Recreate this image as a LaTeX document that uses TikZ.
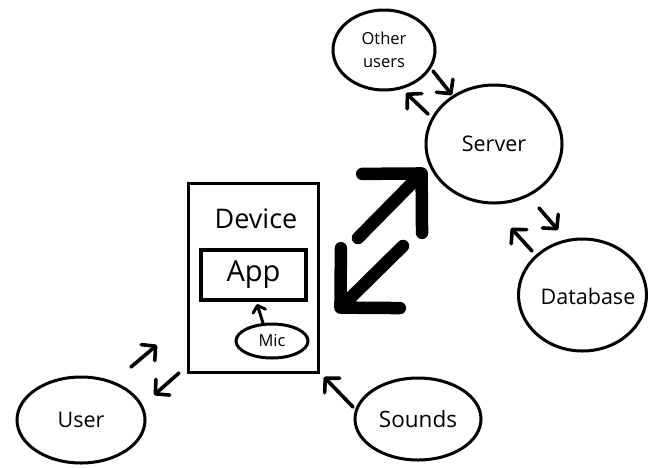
\documentclass[tikz,border=0pt]{standalone}
\usepackage{fontspec}
\setmainfont{Open Sans}
\usetikzlibrary{shapes.geometric,arrows.meta}
\begin{document}
\begin{tikzpicture}[x=1pt,y=-1pt,
  oval/.style={ellipse,draw,line width=3pt,inner sep=0pt},
  smallarrow/.style={line width=3.6pt,line cap=round,-{Straight Barb[length=10pt,width=21pt,round]}},
  bigarrow/.style={line width=12.5pt,line cap=round,-{Straight Barb[length=42pt,width=84pt,round]}},
  lbl/.style={font=\fontsize{21.5}{24}\selectfont}]
\useasboundingbox (0,0) rectangle (648,467);
\node[oval,minimum width=102pt,minimum height=80pt,align=center,font=\fontsize{16.5}{23}\selectfont] (other) at (384,50) {Other\\users};
\node[oval,minimum width=136pt,minimum height=118pt,lbl] (server) at (494,144) {Server};
\node[oval,minimum width=128pt,minimum height=112pt] (db) at (582.5,295) {};
\node[lbl] (dbtext) at (588,296) {Database};
\node[oval,minimum width=128pt,minimum height=86pt,lbl] (user) at (81,420) {User};
\node[oval,minimum width=126pt,minimum height=82pt,font=\fontsize{22.5}{24}\selectfont] (sounds) at (418,419) {Sounds};
\draw[line width=3pt] (188,183) rectangle (318,372);
\node[font=\fontsize{27}{30}\selectfont] (device) at (256,219) {Device};
\node[draw,line width=4pt,minimum width=105pt,minimum height=50pt,inner sep=0pt,font=\fontsize{29}{30}\selectfont] (app) at (253.5,275) {App};
\node[oval,minimum width=72pt,minimum height=34pt,font=\fontsize{16.5}{18}\selectfont] (mic) at (272,341) {Mic};
% coordinates for arrow ends
\coordinate (ou1) at (433,71); \coordinate (ou2) at (452,95);
\coordinate (ou3) at (428,114); \coordinate (ou4) at (406,93);
\coordinate (sd1) at (539,208); \coordinate (sd2) at (558,230);
\coordinate (sd3) at (532,251); \coordinate (sd4) at (511,228);
\coordinate (b1) at (358,238); \coordinate (b2) at (426,169);
\coordinate (b3) at (403,246); \coordinate (b4) at (336,312);
\coordinate (u1) at (131,367); \coordinate (u2) at (157,345);
\coordinate (u3) at (179,373); \coordinate (u4) at (154,395);
\coordinate (s1) at (353,407); \coordinate (s2) at (324,377);
\coordinate (m1) at (263,323); \coordinate (m2) at (257,304);
\draw[smallarrow] (ou1) -- (ou2);
\draw[smallarrow] (ou3) -- (ou4);
\draw[smallarrow] (sd1) -- (sd2);
\draw[smallarrow] (sd3) -- (sd4);
\draw[bigarrow] (b1) -- (b2);
\draw[bigarrow] (b3) -- (b4);
\draw[smallarrow] (u1) -- (u2);
\draw[smallarrow] (u3) -- (u4);
\draw[smallarrow] (s1) -- (s2);
\draw[line width=3pt,line cap=round,-{Straight Barb[length=6pt,width=13pt,round]}] (m1) -- (m2);
\end{tikzpicture}
\end{document}
